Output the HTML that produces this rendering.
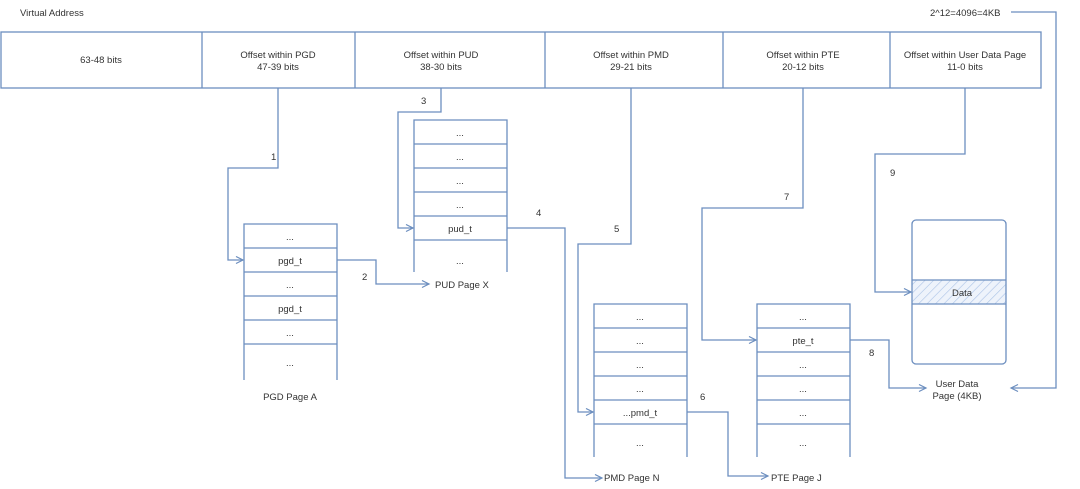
<!DOCTYPE html>
<html><head><meta charset="utf-8"><style>
html,body{margin:0;padding:0;background:#fff;}
svg{display:block;font-family:"Liberation Sans",sans-serif;}
text{font-size:9.5px;fill:#333;}
</style></head><body>
<svg width="1080" height="489" viewBox="0 0 1080 489" xmlns="http://www.w3.org/2000/svg">
<defs>
<marker id="a" markerWidth="10" markerHeight="10" refX="8" refY="4" orient="auto" markerUnits="userSpaceOnUse">
<path d="M1,0.5 L8,4 L1,7.5" fill="none" stroke="#6c8ebf" stroke-width="1.2"/>
</marker>
<pattern id="h" width="6" height="6" patternUnits="userSpaceOnUse" patternTransform="rotate(45)">
<rect width="6" height="6" fill="#eef3fb"/><line x1="0" y1="0" x2="0" y2="6" stroke="#a9c1e6" stroke-width="1.2"/>
</pattern>
</defs>
<g stroke="#6c8ebf" stroke-width="1.3" fill="none">
<rect x="1" y="32" width="1040" height="56"/>
<line x1="202" y1="32" x2="202" y2="88"/>
<line x1="355" y1="32" x2="355" y2="88"/>
<line x1="545" y1="32" x2="545" y2="88"/>
<line x1="723" y1="32" x2="723" y2="88"/>
<line x1="890" y1="32" x2="890" y2="88"/>
<!-- PGD table -->
<path d="M244,380 V224 H337 V380"/>
<path d="M244,248 H337 M244,272 H337 M244,296 H337 M244,320 H337 M244,344 H337"/>
<!-- PUD table -->
<path d="M414,272 V120 H507 V272"/>
<path d="M414,144 H507 M414,168 H507 M414,192 H507 M414,216 H507 M414,240 H507"/>
<!-- PMD -->
<path d="M594,457 V304 H687 V457"/>
<path d="M594,328 H687 M594,352 H687 M594,376 H687 M594,400 H687 M594,424 H687"/>
<!-- PTE -->
<path d="M757,457 V304 H850 V457"/>
<path d="M757,328 H850 M757,352 H850 M757,376 H850 M757,400 H850 M757,424 H850"/>
<!-- data page -->
<rect x="912" y="280" width="94" height="24" fill="url(#h)" stroke="none"/>
<rect x="912" y="220" width="94" height="144" rx="4"/>
<line x1="912" y1="280" x2="1006" y2="280"/>
<line x1="912" y1="304" x2="1006" y2="304"/>
<!-- connectors -->
<path d="M278,88 V168 H228 V260 H243" marker-end="url(#a)"/>
<path d="M337,260 H376 V284 H429" marker-end="url(#a)"/>
<path d="M441,88 V112 H398 V228 H413" marker-end="url(#a)"/>
<path d="M507,228 H565 V478 H602" marker-end="url(#a)"/>
<path d="M631,88 V244 H578 V412 H593" marker-end="url(#a)"/>
<path d="M687,412 H728 V476 H768" marker-end="url(#a)"/>
<path d="M803,88 V208 H702 V340 H756" marker-end="url(#a)"/>
<path d="M850,340 H889 V388 H926" marker-end="url(#a)"/>
<path d="M965,88 V154 H875 V292 H911" marker-end="url(#a)"/>
<path d="M1011,12 H1056 V388 H1011" marker-end="url(#a)"/>
</g>
<g text-anchor="middle">
<text x="101" y="63">63-48 bits</text>
<text x="278" y="58">Offset within PGD</text><text x="278" y="70">47-39 bits</text>
<text x="441" y="58">Offset within PUD</text><text x="441" y="70">38-30 bits</text>
<text x="631" y="58">Offset within PMD</text><text x="631" y="70">29-21 bits</text>
<text x="803" y="58">Offset within PTE</text><text x="803" y="70">20-12 bits</text>
<text x="965" y="58">Offset within User Data Page</text><text x="965" y="70">11-0 bits</text>
<text x="290" y="240">...</text><text x="290" y="264">pgd_t</text><text x="290" y="288">...</text><text x="290" y="312">pgd_t</text><text x="290" y="336">...</text><text x="290" y="366">...</text>
<text x="460" y="136">...</text><text x="460" y="160">...</text><text x="460" y="184">...</text><text x="460" y="208">...</text><text x="460" y="232">pud_t</text><text x="460" y="264">...</text>
<text x="640" y="320">...</text><text x="640" y="344">...</text><text x="640" y="368">...</text><text x="640" y="392">...</text><text x="640" y="416">...pmd_t</text><text x="640" y="446">...</text>
<text x="803" y="320">...</text><text x="803" y="344">pte_t</text><text x="803" y="368">...</text><text x="803" y="392">...</text><text x="803" y="416">...</text><text x="803" y="446">...</text>
<text x="290" y="400">PGD Page A</text>
<text x="957" y="387">User Data</text><text x="957" y="399">Page (4KB)</text>
</g>
<text x="962" y="296" text-anchor="middle">Data</text>
<text x="20" y="16">Virtual Address</text>
<text x="930" y="16">2^12=4096=4KB</text>
<text x="435" y="288">PUD Page X</text>
<text x="604" y="481">PMD Page N</text>
<text x="771" y="481">PTE Page J</text>
<text x="271" y="160">1</text><text x="362" y="280">2</text><text x="421" y="104">3</text><text x="536" y="216">4</text>
<text x="614" y="232">5</text><text x="700" y="400">6</text><text x="784" y="200">7</text><text x="869" y="356">8</text><text x="890" y="176">9</text>
</svg>
</body></html>
